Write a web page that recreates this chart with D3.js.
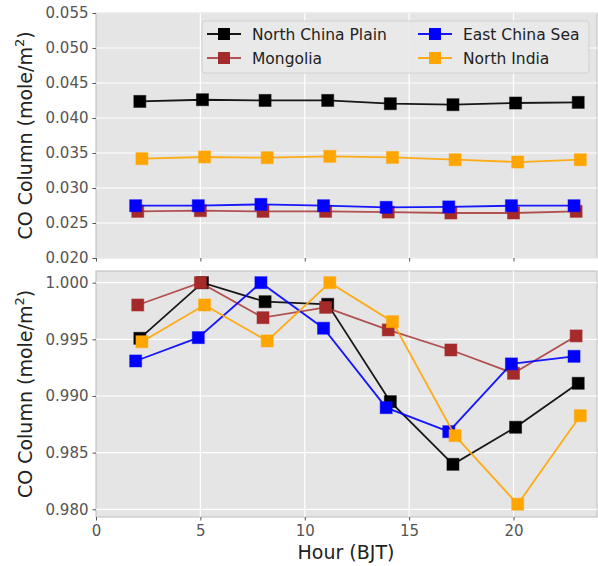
<!DOCTYPE html>
<html><head><meta charset="utf-8">
<script src="https://cdn.jsdelivr.net/npm/d3@7"></script>
<style>body{margin:0;background:#fff;} text{font-family:"DejaVu Sans",sans-serif;}</style>
</head><body><svg id="c" width="598" height="566"></svg>
<script>
const hours = [2, 5, 8, 11, 14, 17, 20, 23];
const seriesNames = ["North China Plain", "Mongolia", "East China Sea", "North India"];
const seriesColors = ["#000000", "#A52A2A", "#0000FF", "#FFA500"];
const hourOffsets = [0.1, 0.0, -0.1, 0.2];
// Top panel: absolute CO column
const topNCP = [0.04237, 0.04261, 0.04251, 0.04251, 0.04204, 0.0419, 0.04214, 0.04223];
const topMON = [0.02666, 0.02676, 0.02666, 0.02666, 0.02656, 0.02643, 0.02643, 0.02666];
const topECS = [0.02747, 0.02747, 0.02766, 0.02747, 0.02724, 0.0273, 0.02747, 0.02747];
const topNI  = [0.03419, 0.03443, 0.03433, 0.03452, 0.03437, 0.03404, 0.03371, 0.03404];
// Bottom panel: normalised CO column
const botNCP = [0.99509, 1.0, 0.99832, 0.99809, 0.9895, 0.98397, 0.98724, 0.99112];
const botMON = [0.99803, 1.0, 0.99691, 0.99782, 0.99583, 0.99406, 0.992, 0.9953];
const botECS = [0.99309, 0.99515, 1.0, 0.99598, 0.98897, 0.98685, 0.99283, 0.9935];
const botNI  = [0.99479, 0.99803, 0.99486, 1.0, 0.99656, 0.9865, 0.98045, 0.98826];
const xTicks = [0, 5, 10, 15, 20];
const topYTicks = [0.020, 0.025, 0.030, 0.035, 0.040, 0.045, 0.050, 0.055];
const botYTicks = [0.980, 0.985, 0.990, 0.995, 1.000];

const svg = d3.select("#c");
const L = 96, R = 597;
const x = d3.scaleLinear().domain([0, 24]).range([L, R]);

function panel(top, bottom, yDomain, yTicks, data, showX) {
  const y = d3.scaleLinear().domain(yDomain).range([bottom, top]);
  const g = svg.append("g");
  g.append("rect").attr("x", L).attr("y", top).attr("width", R - L).attr("height", bottom - top)
    .attr("fill", "#E5E5E5").attr("stroke", "#BCBCBC").attr("stroke-width", 1);
  g.selectAll(".gy").data(yTicks).join("line").attr("x1", L).attr("x2", R)
    .attr("y1", d => y(d)).attr("y2", d => y(d)).attr("stroke", "#fff").attr("stroke-width", 1.2);
  g.selectAll(".gx").data(xTicks.filter(d => d > 0)).join("line").attr("y1", top).attr("y2", bottom)
    .attr("x1", d => x(d)).attr("x2", d => x(d)).attr("stroke", "#fff").attr("stroke-width", 1.2);
  const ya = d3.axisLeft(y).tickValues(yTicks).tickFormat(d3.format(".3f")).tickSize(3.5).tickPadding(4);
  const yg = g.append("g").attr("transform", `translate(${L},0)`).call(ya);
  yg.select(".domain").remove();
  yg.selectAll("line").attr("stroke", "#555");
  yg.selectAll("text").attr("fill", "#555").attr("font-size", 15);
  const xa = d3.axisBottom(x).tickValues(xTicks).tickSize(3.5).tickPadding(5);
  const xg = g.append("g").attr("transform", `translate(0,${bottom})`).call(xa);
  xg.select(".domain").remove();
  xg.selectAll("line").attr("stroke", "#555");
  xg.selectAll("text").attr("fill", "#555").attr("font-size", 15);
  if (!showX) xg.selectAll("text").remove();
  const line = d3.line().x(d => x(d[0])).y(d => y(d[1]));
  data.forEach((vals, i) => {
    const pts = vals.map((v, j) => [hours[j] + hourOffsets[i], v]);
    const sg = g.append("g");
    sg.append("path").attr("d", line(pts)).attr("fill", "none").attr("stroke", seriesColors[i])
      .attr("stroke-width", 1.8).attr("stroke-opacity", i === 1 ? 0.8 : 0.9);
    const s = 12;
    sg.selectAll("rect").data(pts).join("rect")
      .attr("x", d => x(d[0]) - s / 2).attr("y", d => y(d[1]) - s / 2)
      .attr("width", s).attr("height", s).attr("fill", seriesColors[i])
      .attr("stroke", seriesColors[i]).attr("stroke-opacity", 0.5).attr("stroke-width", 1);
  });
  const cy = (top + bottom) / 2;
  const lab = svg.append("text").attr("transform", `translate(32,${cy}) rotate(-90)`)
    .attr("text-anchor", "middle").attr("font-size", 19).attr("fill", "#222");
  lab.append("tspan").text("CO Column (mole/m");
  lab.append("tspan").text("2").attr("font-size", 13).attr("dy", -8);
  lab.append("tspan").text(")").attr("dy", 8);
  return y;
}

panel(13, 258, [0.020, 0.055], topYTicks, [topNCP, topMON, topECS, topNI], false);
panel(271, 517, [0.97932, 1.00103], botYTicks, [botNCP, botMON, botECS, botNI], true);

svg.append("text").attr("x", 346).attr("y", 559).attr("text-anchor", "middle")
  .attr("font-size", 19).attr("fill", "#222").text("Hour (BJT)");

const lg = svg.append("g");
lg.append("rect").attr("x", 202).attr("y", 21).attr("width", 387).attr("height", 52).attr("rx", 3)
  .attr("fill", "#E9E9E9").attr("fill-opacity", 0.9).attr("stroke", "#D0D0D0").attr("stroke-width", 1);
const legPos = [[207, 34], [207, 58], [418, 34], [418, 58]];
seriesNames.forEach((n, i) => {
  const [lx, ly] = legPos[i];
  lg.append("line").attr("x1", lx).attr("x2", lx + 34).attr("y1", ly).attr("y2", ly)
    .attr("stroke", seriesColors[i]).attr("stroke-width", 1.8).attr("stroke-opacity", i === 1 ? 0.8 : 0.9);
  lg.append("rect").attr("x", lx + 17 - 6).attr("y", ly - 6).attr("width", 12).attr("height", 12)
    .attr("fill", seriesColors[i]);
  lg.append("text").attr("x", lx + 45).attr("y", ly + 5.5).attr("font-size", 15.5).attr("fill", "#222").text(n);
});
</script></body></html>
